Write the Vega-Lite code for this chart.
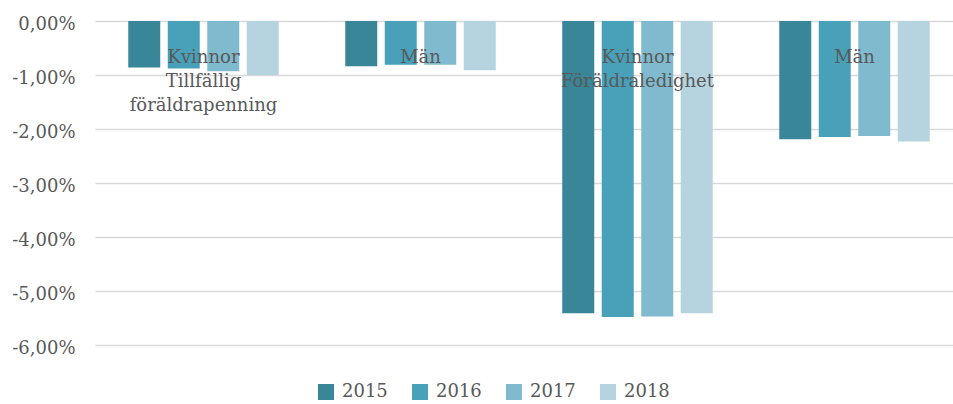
{
  "$schema": "https://vega.github.io/schema/vega-lite/v6.json",
  "autosize": {"type": "none"},
  "padding": {"left": 95, "top": 21, "right": 0, "bottom": 59},
  "width": 868,
  "height": 324,
  "background": "white",
  "config": {
    "font": "DejaVu Serif",
    "view": {"stroke": null},
    "axis": {"labelColor": "#595959", "labelFontSize": 18, "titleColor": "#595959"},
    "legend": {"labelColor": "#595959", "labelFontSize": 18}
  },
  "data": {
    "values": [
      {"grupp": "Kvinnor|Tillfällig|föräldrapenning", "ar": "2015", "v": -0.0086},
      {"grupp": "Kvinnor|Tillfällig|föräldrapenning", "ar": "2016", "v": -0.0088},
      {"grupp": "Kvinnor|Tillfällig|föräldrapenning", "ar": "2017", "v": -0.0093},
      {"grupp": "Kvinnor|Tillfällig|föräldrapenning", "ar": "2018", "v": -0.0100},
      {"grupp": "Män", "ar": "2015", "v": -0.0084},
      {"grupp": "Män", "ar": "2016", "v": -0.0081},
      {"grupp": "Män", "ar": "2017", "v": -0.0081},
      {"grupp": "Män", "ar": "2018", "v": -0.0091},
      {"grupp": "Kvinnor|Föräldraledighet", "ar": "2015", "v": -0.0541},
      {"grupp": "Kvinnor|Föräldraledighet", "ar": "2016", "v": -0.0548},
      {"grupp": "Kvinnor|Föräldraledighet", "ar": "2017", "v": -0.0547},
      {"grupp": "Kvinnor|Föräldraledighet", "ar": "2018", "v": -0.0541},
      {"grupp": "Män|", "ar": "2015", "v": -0.0219},
      {"grupp": "Män|", "ar": "2016", "v": -0.0215},
      {"grupp": "Män|", "ar": "2017", "v": -0.0213},
      {"grupp": "Män|", "ar": "2018", "v": -0.0223}
    ]
  },
  "mark": {"type": "bar"},
  "encoding": {
    "x": {
      "field": "grupp",
      "type": "nominal",
      "sort": null,
      "scale": {"paddingInner": 0, "paddingOuter": 0},
      "axis": {
        "title": null,
        "orient": "bottom",
        "offset": -324,
        "domain": false,
        "ticks": false,
        "tickSize": 0,
        "labelAngle": 0,
        "labelPadding": 27,
        "labelBaseline": "top",
        "labelLineHeight": 24,
        "labelExpr": "split(datum.label, '|')",
        "zindex": 2
      }
    },
    "xOffset": {
      "field": "ar",
      "type": "nominal",
      "scale": {"paddingInner": 0.19, "paddingOuter": 0.842}
    },
    "y": {
      "field": "v",
      "type": "quantitative",
      "scale": {"domain": [-0.06, 0], "nice": false},
      "axis": {
        "title": null,
        "values": [0, -0.01, -0.02, -0.03, -0.04, -0.05, -0.06],
        "labelExpr": "replace(replace(format(datum.value, '.2%'), '.', ','), '\u2212', '-')",
        "domain": false,
        "ticks": false,
        "labelPadding": 20,
        "labelOffset": 3,
        "gridColor": "#d9d9d9",
        "gridWidth": 1.5,
        "zindex": 0
      }
    },
    "color": {
      "field": "ar",
      "type": "nominal",
      "scale": {"range": ["#388698", "#48a1b9", "#80bace", "#b6d4df"]},
      "legend": {
        "title": null,
        "orient": "none",
        "direction": "horizontal",
        "legendX": 222,
        "legendY": 362,
        "symbolType": "square",
        "symbolSize": 256,
        "symbolStrokeWidth": 0,
        "symbolOpacity": 1,
        "labelOffset": 7,
        "columnPadding": 23,
        "padding": 0
      }
    }
  }
}
